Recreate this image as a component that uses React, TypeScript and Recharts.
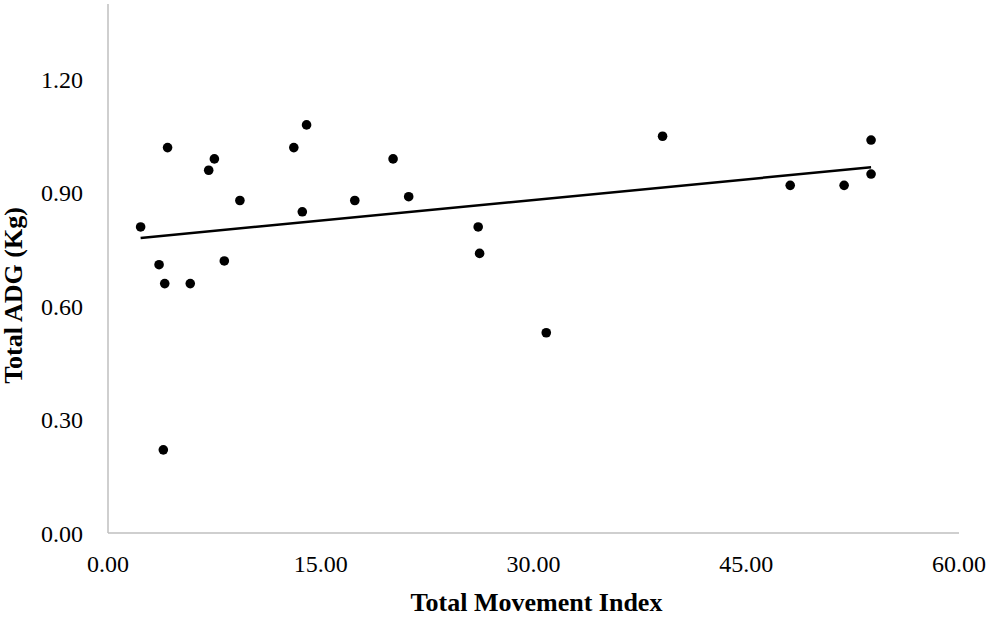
import React from "react";
import { ScatterChart, Scatter, XAxis, YAxis } from "recharts";

const movementIndex = [
  2.3, 4.2, 7.5, 7.1, 9.3, 3.6, 4.0, 5.8, 8.2, 13.1, 14.0, 13.7, 17.4, 20.1, 21.2,
  3.9, 26.1, 26.2, 30.9, 39.1, 48.1, 51.9, 53.8, 53.8,
];
const totalADG = [
  0.81, 1.02, 0.99, 0.96, 0.88, 0.71, 0.66, 0.66, 0.72, 1.02, 1.08, 0.85, 0.88, 0.99, 0.89,
  0.22, 0.81, 0.74, 0.53, 1.05, 0.92, 0.92, 1.04, 0.95,
];
const xTicks = [0, 15, 30, 45, 60];
const yTicks = [0, 0.3, 0.6, 0.9, 1.2];
const xLabel = "Total Movement Index";
const yLabel = "Total ADG (Kg)";

const points = movementIndex.map((x, i) => ({ x, y: totalADG[i] }));

// least-squares linear trend line
const n = points.length;
const mx = movementIndex.reduce((a, b) => a + b, 0) / n;
const my = totalADG.reduce((a, b) => a + b, 0) / n;
let sxy = 0;
let sxx = 0;
points.forEach((p) => {
  sxy += (p.x - mx) * (p.y - my);
  sxx += (p.x - mx) * (p.x - mx);
});
const slope = sxy / sxx;
const intercept = my - slope * mx;
const xMin = Math.min(...movementIndex);
const xMax = Math.max(...movementIndex);
const trend = [
  { x: xMin, y: intercept + slope * xMin },
  { x: xMax, y: intercept + slope * xMax },
];

const FONT = "'Liberation Serif', 'Times New Roman', serif";

const Dot = (props: any) => {
  const { cx, cy } = props;
  if (cx == null || cy == null) return null;
  return <circle cx={cx} cy={cy} r={4.8} fill="#000" />;
};

const YLabel = (props: any) => {
  const vb = props.viewBox || {};
  const cx = 22;
  const cy = (vb.y ?? 4) + (vb.height ?? 529) / 2 + 27;
  return (
    <text
      x={cx}
      y={cy}
      transform={`rotate(-90 ${cx} ${cy})`}
      textAnchor="middle"
      fontFamily={FONT}
      fontWeight="bold"
      fontSize={26}
      fill="#000"
    >
      {yLabel}
    </text>
  );
};

const XLabel = (props: any) => {
  const vb = props.viewBox || {};
  const cx = (vb.x ?? 108) + (vb.width ?? 851) / 2 + 3;
  return (
    <text
      x={cx}
      y={611}
      textAnchor="middle"
      fontFamily={FONT}
      fontWeight="bold"
      fontSize={26}
      fill="#000"
    >
      {xLabel}
    </text>
  );
};

export default function App() {
  return (
    <div style={{ position: "absolute", left: 0, top: 0, background: "#fff" }}>
      <ScatterChart
        width={992}
        height={618}
        margin={{ top: 4, right: 33, bottom: 0, left: 0 }}
      >
        <XAxis
          type="number"
          dataKey="x"
          domain={[0, 60]}
          ticks={xTicks}
          allowDataOverflow
          tickFormatter={(v: number) => v.toFixed(2)}
          tickLine={false}
          tickSize={0}
          tickMargin={22}
          height={85}
          axisLine={{ stroke: "#bfbfbf", strokeWidth: 1.5 }}
          tick={{ fill: "#000", fontSize: 24, fontFamily: FONT }}
          label={<XLabel />}
        />
        <YAxis
          type="number"
          dataKey="y"
          domain={[0, 1.4]}
          ticks={yTicks}
          allowDataOverflow
          tickFormatter={(v: number) => v.toFixed(2)}
          tickLine={false}
          tickSize={0}
          tickMargin={25}
          width={108}
          axisLine={{ stroke: "#bfbfbf", strokeWidth: 1.5 }}
          tick={{ fill: "#000", fontSize: 24, fontFamily: FONT }}
          label={<YLabel />}
        />
        <Scatter
          data={trend}
          line={{ stroke: "#000", strokeWidth: 2.5 }}
          shape={() => <g />}
          isAnimationActive={false}
        />
        <Scatter data={points} shape={<Dot />} fill="#000" isAnimationActive={false} />
      </ScatterChart>
    </div>
  );
}
